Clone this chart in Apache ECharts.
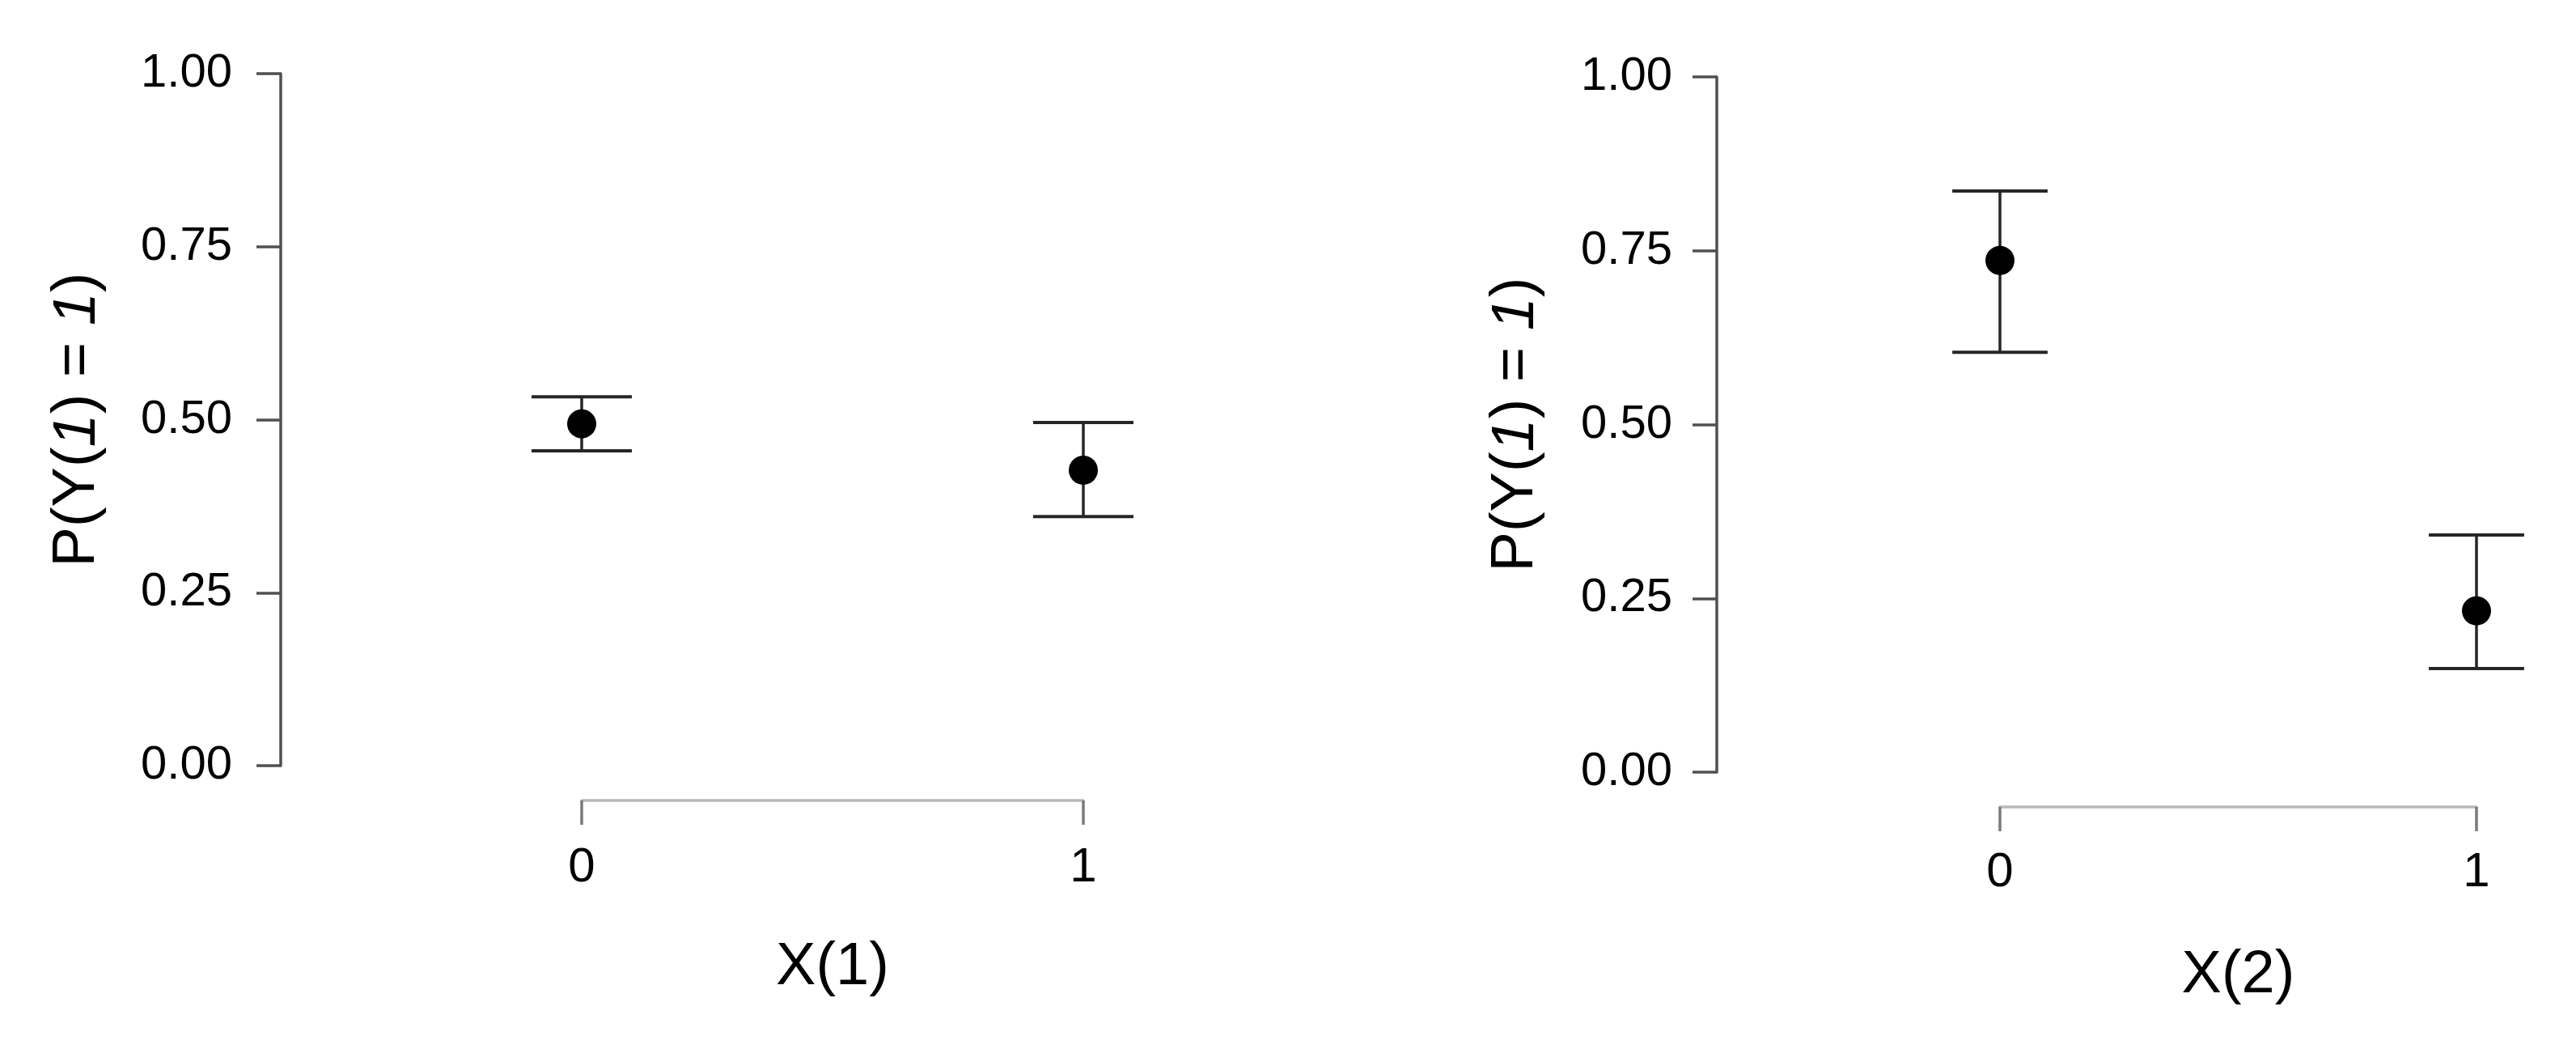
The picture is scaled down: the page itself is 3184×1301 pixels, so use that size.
<!DOCTYPE html>
<html>
<head>
<meta charset="utf-8">
<title>P(Y(1)=1) by X</title>
<script src="https://cdn.jsdelivr.net/npm/echarts@6/dist/echarts.min.js"></script>
<style>
  html, body { margin: 0; padding: 0; background: #fff; }
  #main { width: 3184px; height: 1301px; }
</style>
</head>
<body>
<div id="main"></div>
<script>
// data
var xCats = [0, 1];
var yTicks = [0, 0.25, 0.5, 0.75, 1];

// panel 1 : X(1)
var point1 = [0.494, 0.427];
var lower1 = [0.455, 0.360];
var upper1 = [0.533, 0.496];

// panel 2 : X(2)
var point2 = [0.736, 0.232];
var lower2 = [0.604, 0.149];
var upper2 = [0.836, 0.341];

var capHalf = 0.1; // half width of the whisker caps, in x units
var font = 'Liberation Sans, Arial, Helvetica, sans-serif';

function renderBar(params, api) {
	var x = api.value(0);
	var lo = api.value(1);
	var hi = api.value(2);
	var top = api.coord([x, hi]);
	var bot = api.coord([x, lo]);
	var l = api.coord([x - capHalf, hi]);
	var r = api.coord([x + capHalf, hi]);
	var style = { stroke: '#262626', lineWidth: 4 };
	return {
		type: 'group',
		children: [
			{ type: 'line', shape: { x1: top[0], y1: top[1], x2: bot[0], y2: bot[1] }, style: { stroke: '#262626', lineWidth: 3.5 } },
			{ type: 'line', shape: { x1: l[0], y1: top[1], x2: r[0], y2: top[1] }, style: style },
			{ type: 'line', shape: { x1: l[0], y1: bot[1], x2: r[0], y2: bot[1] }, style: style }
		]
	};
}

function xAxisOf(idx, title, gap, labelMargin) {
	return {
		type: 'value', gridIndex: idx, min: 0, max: 1, interval: 1,
		offset: 43,
		splitLine: { show: false },
		axisLine: { show: true, onZero: false, lineStyle: { color: '#b8b8b8', width: 3.5 } },
		axisTick: { show: true, length: 30, lineStyle: { color: '#7a7a7a', width: 3.5 } },
		axisLabel: { fontSize: 60, color: '#000', fontFamily: font, margin: labelMargin },
		name: title, nameLocation: 'middle', nameGap: gap,
		nameTextStyle: { fontSize: 74, color: '#000', fontFamily: font }
	};
}

function yAxisOf(idx, off, gap, labelMargin) {
	return {
		type: 'value', gridIndex: idx, min: 0, max: 1, interval: 0.25,
		offset: off,
		splitLine: { show: false },
		axisLine: { show: true, onZero: false, lineStyle: { color: '#505050', width: 3.5 } },
		axisTick: { show: true, length: 30, lineStyle: { color: '#505050', width: 3.5 } },
		axisLabel: {
			fontSize: 58, color: '#000', fontFamily: font, margin: labelMargin,
			formatter: function (v) { return v.toFixed(2); }
		},
		name: '{n|P(Y(}{i|1}{n|) = }{i|1}{n|)}',
		nameLocation: 'middle', nameGap: gap,
		nameTextStyle: {
			rich: {
				n: { fontSize: 74, color: '#000', fontFamily: font },
				i: { fontSize: 74, color: '#000', fontFamily: font, fontStyle: 'italic' }
			}
		}
	};
}

function barData(lo, hi) {
	return xCats.map(function (x, i) { return [x, lo[i], hi[i]]; });
}
function pointData(p) {
	return xCats.map(function (x, i) { return [x, p[i]]; });
}

var myChart = echarts.init(document.getElementById('main'));
var option = {
	backgroundColor: '#fff',
	animation: false,
	grid: [
		{ left: 719, top: 91, width: 620, height: 855 },
		{ left: 2472, top: 95, width: 589, height: 859 }
	],
	xAxis: [
		xAxisOf(0, 'X(1)', 170, 53),
		xAxisOf(1, 'X(2)', 172, 51)
	],
	yAxis: [
		yAxisOf(0, 372, 214, 60),
		yAxisOf(1, 350, 211, 55)
	],
	series: [
		{
			type: 'custom', xAxisIndex: 0, yAxisIndex: 0,
			renderItem: renderBar, encode: { x: 0, y: [1, 2] },
			data: barData(lower1, upper1), clip: false, z: 2
		},
		{
			type: 'scatter', xAxisIndex: 0, yAxisIndex: 0,
			symbolSize: 36, itemStyle: { color: '#000', opacity: 1 },
			data: pointData(point1), clip: false, z: 3
		},
		{
			type: 'custom', xAxisIndex: 1, yAxisIndex: 1,
			renderItem: renderBar, encode: { x: 0, y: [1, 2] },
			data: barData(lower2, upper2), clip: false, z: 2
		},
		{
			type: 'scatter', xAxisIndex: 1, yAxisIndex: 1,
			symbolSize: 36, itemStyle: { color: '#000', opacity: 1 },
			data: pointData(point2), clip: false, z: 3
		}
	]
};
myChart.setOption(option);
</script>
</body>
</html>
